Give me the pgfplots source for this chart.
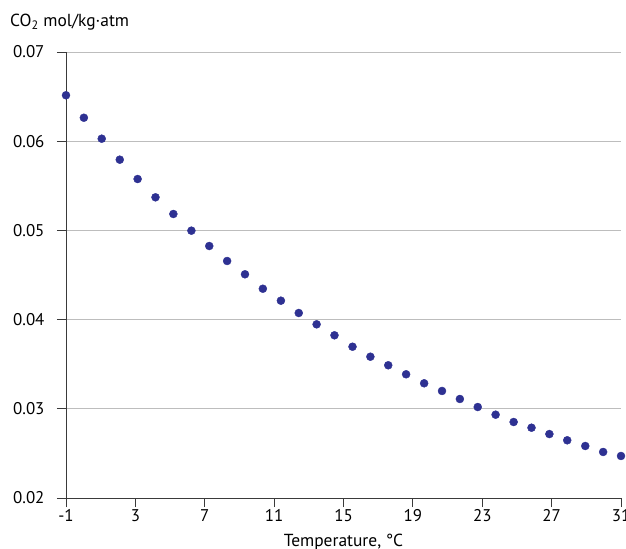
\documentclass[border=0pt]{standalone}
\usepackage{pgfplots}
\pgfplotsset{compat=1.18}
\usepackage{fontspec}
\setmainfont{PT Sans}
\definecolor{dotblue}{HTML}{2E3192}
\definecolor{axgray}{HTML}{3A3A3A}
\definecolor{gridgray}{HTML}{BDBDBD}
\begin{document}
\begin{tikzpicture}
\useasboundingbox (-66bp,-51bp) rectangle (560bp,498bp);
\begin{axis}[
  at={(0,0)}, anchor=south west,
  scale only axis, width=555bp, height=446bp,
  xmin=-1, xmax=31, ymin=0.02, ymax=0.07,
  axis x line*=bottom, axis y line*=left,
  axis line style={axgray, line width=0.9bp},
  xtick={-1,3,...,31},
  ytick={0.02,0.03,...,0.07},
  tick align=outside,
  major tick length=9bp,
  tick style={axgray, line width=0.9bp},
  ymajorgrids,
  grid style={gridgray, line width=0.9bp},
  /pgf/number format/assume math mode=true,
  yticklabel style={/pgf/number format/fixed, /pgf/number format/fixed zerofill, /pgf/number format/precision=2, font=\fontsize{17}{20}\selectfont, xshift=-9bp},
  xticklabel style={font=\fontsize{17}{20}\selectfont, yshift=1bp},
  scaled y ticks=false,
  xlabel={Temperature, °C},
  xlabel style={font=\fontsize{17.5}{20}\selectfont, at={(axis description cs:0.5,0)}, anchor=base, yshift=-48bp},
  clip=false,
]
\addplot[only marks, mark=*, mark size=4bp, mark options={draw=dotblue, fill=dotblue}, color=dotblue] coordinates {
(-1.00,0.06515) (0.03,0.06263) (1.06,0.06028) (2.10,0.05793) (3.13,0.05576)
(4.16,0.05371) (5.19,0.05184) (6.23,0.04997) (7.26,0.04825) (8.29,0.04657)
(9.32,0.04508) (10.35,0.04346) (11.39,0.04212) (12.42,0.04074) (13.45,0.03947)
(14.48,0.03824) (15.52,0.03696) (16.55,0.03584) (17.58,0.03488) (18.61,0.03387)
(19.65,0.03286) (20.68,0.03200) (21.71,0.03110) (22.74,0.03020) (23.77,0.02934)
(24.81,0.02852) (25.84,0.02788) (26.87,0.02717) (27.90,0.02647) (28.94,0.02583)
(29.97,0.02516) (31.00,0.02471)
};
\end{axis}
\node[anchor=base west, font=\fontsize{17.5}{20}\selectfont, inner sep=0pt] at (-56bp,471bp) {CO\textsubscript{2} mol/kg·atm};
\end{tikzpicture}
\end{document}
